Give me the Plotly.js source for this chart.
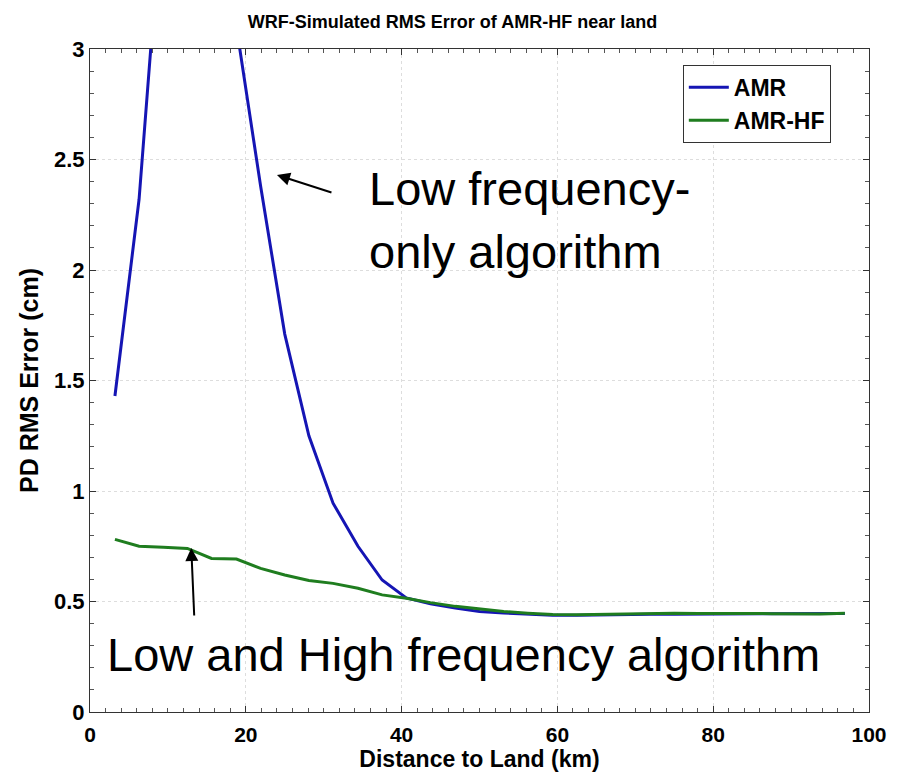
<!DOCTYPE html>
<html>
<head>
<meta charset="utf-8">
<script src="https://cdn.plot.ly/plotly-3.0.1.min.js"></script>
<style>html,body{margin:0;padding:0;background:#fff;}#chart{width:905px;height:775px;}</style>
</head>
<body>
<div id="chart"></div>
<script>
const distanceKm = [3.2, 6.3, 9.4, 12.5, 15.6, 18.8, 21.9, 25.0, 28.1, 31.2, 34.4, 37.5, 40.6, 43.7, 46.9, 50.0, 53.1, 56.2, 59.4, 62.5, 65.6, 68.7, 71.9, 75.0, 78.1, 81.2, 84.4, 87.5, 90.6, 93.7, 96.9];
const amr = [1.43, 2.32, 3.73, 4.2, 3.9, 3.1, 2.38, 1.71, 1.25, 0.945, 0.75, 0.597, 0.516, 0.49, 0.47, 0.455, 0.448, 0.442, 0.438, 0.438, 0.44, 0.44, 0.442, 0.442, 0.443, 0.444, 0.444, 0.444, 0.444, 0.445, 0.446];
const amrHf = [0.781, 0.75, 0.745, 0.74, 0.695, 0.692, 0.65, 0.62, 0.595, 0.582, 0.56, 0.53, 0.515, 0.495, 0.478, 0.465, 0.455, 0.447, 0.441, 0.44, 0.442, 0.445, 0.447, 0.447, 0.446, 0.447, 0.446, 0.445, 0.443, 0.444, 0.447];
const seriesNames = ['AMR', 'AMR-HF'];
const xTickVals = [0, 20, 40, 60, 80, 100];
const xTickText = ['0', '20', '40', '60', '80', '100'];
const yTickVals = [0, 0.5, 1, 1.5, 2, 2.5, 3];
const yTickText = ['0', '0.5', '1', '1.5', '2', '2.5', '3'];
const titleText = 'WRF-Simulated RMS Error of AMR-HF near land';
const xTitle = 'Distance to Land (km)';
const yTitle = 'PD RMS Error (cm)';
const note1a = 'Low frequency-';
const note1b = 'only algorithm';
const note2 = 'Low and High frequency algorithm';

const font = 'Liberation Sans, Arial, sans-serif';
const b = s => '<b>' + s + '</b>';

const traces = [
  {x: distanceKm, y: amr, name: b(seriesNames[0]), mode: 'lines', line: {color: '#1515b4', width: 3}},
  {x: distanceKm, y: amrHf, name: b(seriesNames[1]), mode: 'lines', line: {color: '#1f7d1f', width: 3}}
];

const axisCommon = {
  showline: true, linecolor: '#333', linewidth: 1, mirror: 'allticks',
  ticks: 'inside', ticklen: 6, tickcolor: '#333',
  showgrid: true, gridcolor: '#dddddd', griddash: 'dot', gridwidth: 1,
  zeroline: false, tickmode: 'array'
};

const layout = {
  width: 905, height: 775,
  margin: {l: 90, r: 36, t: 49, b: 63},
  paper_bgcolor: '#fff', plot_bgcolor: '#fff',
  title: {text: b(titleText), x: 0.5, xanchor: 'center', y: 0.972, yanchor: 'middle',
          font: {family: font, size: 18, color: '#000'}},
  xaxis: Object.assign({}, axisCommon, {
    range: [0, 100], tickvals: xTickVals, ticktext: xTickText,
    tickfont: {family: font, size: 21, color: '#000', weight: 700},
    ticklabelstandoff: 4,
    minor: {tickmode: 'linear', tick0: 0, dtick: 2, ticks: 'inside', ticklen: 4, tickcolor: '#555', showgrid: false},
    title: {text: b(xTitle), font: {family: font, size: 23, color: '#000'}, standoff: 0}
  }),
  yaxis: Object.assign({}, axisCommon, {
    range: [0, 3], tickvals: yTickVals, ticktext: yTickText,
    tickfont: {family: font, size: 22, color: '#000', weight: 700},
    minor: {tickmode: 'linear', tick0: 0, dtick: 0.1, ticks: 'inside', ticklen: 4, tickcolor: '#555', showgrid: false},
    title: {text: b(yTitle), font: {family: font, size: 25, color: '#000'}, standoff: 8}
  }),
  showlegend: true,
  legend: {x: 0.761, y: 0.976, xanchor: 'left', yanchor: 'top', bgcolor: '#fff',
           bordercolor: '#333', borderwidth: 1,
           font: {family: font, size: 23, color: '#000'},
           tracegroupgap: 0, itemwidth: 40},
  annotations: [
    {x: 24.0, y: 2.43, xref: 'x', yref: 'y', ax: 56, ay: 18, text: '', showarrow: true,
     arrowhead: 2, arrowsize: 1.3, arrowwidth: 2, arrowcolor: '#000'},
    {x: 13.0, y: 0.742, xref: 'x', yref: 'y', ax: 3, ay: 69, text: '', showarrow: true,
     arrowhead: 2, arrowsize: 1.3, arrowwidth: 2, arrowcolor: '#000'},
    {x: 35.6, y: 2.37, xref: 'x', yref: 'y', xanchor: 'left', yanchor: 'middle', align: 'left',
     text: note1a, showarrow: false, font: {family: font, size: 47, color: '#000'}},
    {x: 35.6, y: 2.085, xref: 'x', yref: 'y', xanchor: 'left', yanchor: 'middle', align: 'left',
     text: note1b, showarrow: false, font: {family: font, size: 47, color: '#000'}},
    {x: 1.9, y: 0.26, xref: 'x', yref: 'y', xanchor: 'left', yanchor: 'middle', align: 'left',
     text: note2, showarrow: false, font: {family: font, size: 47, color: '#000'}}
  ]
};

Plotly.newPlot('chart', traces, layout, {displayModeBar: false, staticPlot: true});
</script>
</body>
</html>
